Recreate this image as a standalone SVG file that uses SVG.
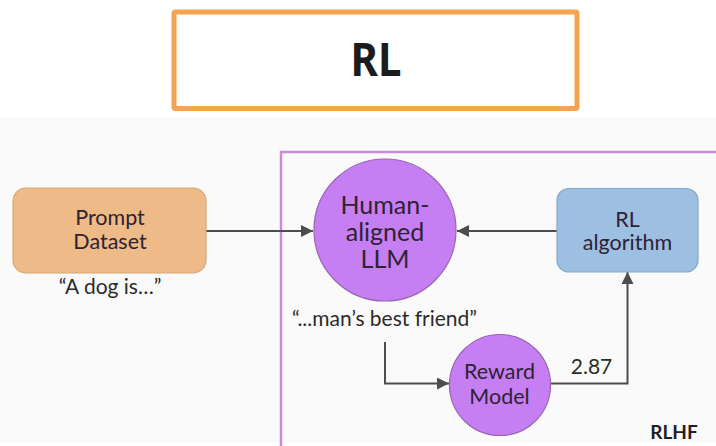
<svg xmlns="http://www.w3.org/2000/svg" width="716" height="446" viewBox="0 0 716 446">
  <style>
    .lbl { font-family: Lato, "Open Sans", "Liberation Sans", sans-serif; font-size: 21px; fill: #2b2b2b; text-anchor: middle; }
    .node-lbl { font-family: Lato, "Open Sans", "Liberation Sans", sans-serif; fill: #2e2233; text-anchor: middle; }
    .edge { fill: none; stroke: #4d4d4d; stroke-width: 2; }
    .circle-node { fill: #c67ef3; stroke: #9a63b5; stroke-width: 1.2; }
  </style>
  <defs>
    <marker id="arrow" viewBox="0 0 10 10" refX="10" refY="5" markerWidth="6" markerHeight="6" markerUnits="strokeWidth" orient="auto">
      <path d="M0,0 L10,5 L0,10 z" fill="#4d4d4d"/>
    </marker>
  </defs>

  <!-- page background -->
  <rect x="0" y="0" width="716" height="446" fill="#ffffff"/>
  <rect x="0" y="117" width="716" height="326" fill="#fafafa"/>

  <!-- title -->
  <g id="title">
    <rect x="174" y="12" width="403" height="96.5" fill="#ffffff" stroke="#f5a251" stroke-width="5" rx="1.5"/>
    <text x="376" y="76" font-family="'Noto Sans', 'Open Sans', sans-serif" font-weight="bold" font-size="46" fill="#1c1c1c" text-anchor="middle" textLength="51" lengthAdjust="spacingAndGlyphs">RL</text>
  </g>

  <!-- RLHF frame -->
  <g id="rlhf-frame">
    <rect x="281" y="152" width="480" height="340" fill="none" stroke="#c98ad9" stroke-width="2.5"/>
    <text x="674" y="439" font-family="Lato, 'Open Sans', sans-serif" font-weight="bold" font-size="19" fill="#1f1f1f" text-anchor="middle">RLHF</text>
  </g>

  <!-- connectors -->
  <g id="connectors">
    <path class="edge" d="M206,231 L313,231" marker-end="url(#arrow)"/>
    <path class="edge" d="M557,231 L457,231" marker-end="url(#arrow)"/>
    <path class="edge" d="M385,342 L385,383.5 L449,383.5" marker-end="url(#arrow)"/>
    <path class="edge" d="M551,383.5 L627.5,383.5 L627.5,272" marker-end="url(#arrow)"/>
    <text class="lbl" x="591.5" y="374">2.87</text>
  </g>

  <!-- nodes -->
  <g id="prompt-dataset">
    <rect x="13" y="188" width="193" height="85" rx="13" fill="#edba88" stroke="#d6a779" stroke-width="1.2"/>
    <text class="node-lbl" x="110" y="225" font-size="21.5" fill="#2b2b2b">Prompt</text>
    <text class="node-lbl" x="110" y="249" font-size="21.5" fill="#2b2b2b">Dataset</text>
    <text class="lbl" x="110" y="294">“A dog is…”</text>
  </g>

  <g id="human-aligned-llm">
    <circle class="circle-node" cx="385" cy="230" r="71"/>
    <text class="node-lbl" x="385" y="214" font-size="25">Human-</text>
    <text class="node-lbl" x="385" y="241" font-size="25">aligned</text>
    <text class="node-lbl" x="385" y="268" font-size="25">LLM</text>
    <text class="lbl" x="384.5" y="326">“...man’s best friend”</text>
  </g>

  <g id="rl-algorithm">
    <rect x="557" y="188.5" width="141" height="83.5" rx="12" fill="#9dbfe2" stroke="#84a7ca" stroke-width="1.2"/>
    <text class="node-lbl" x="627.5" y="227" font-size="21.5" fill="#2b2b2b">RL</text>
    <text class="node-lbl" x="627.5" y="250" font-size="21.5" fill="#2b2b2b">algorithm</text>
  </g>

  <g id="reward-model">
    <circle class="circle-node" cx="500" cy="385" r="50.5"/>
    <text class="node-lbl" x="499.5" y="379" font-size="21.5">Reward</text>
    <text class="node-lbl" x="499.5" y="404" font-size="21.5">Model</text>
  </g>
</svg>
